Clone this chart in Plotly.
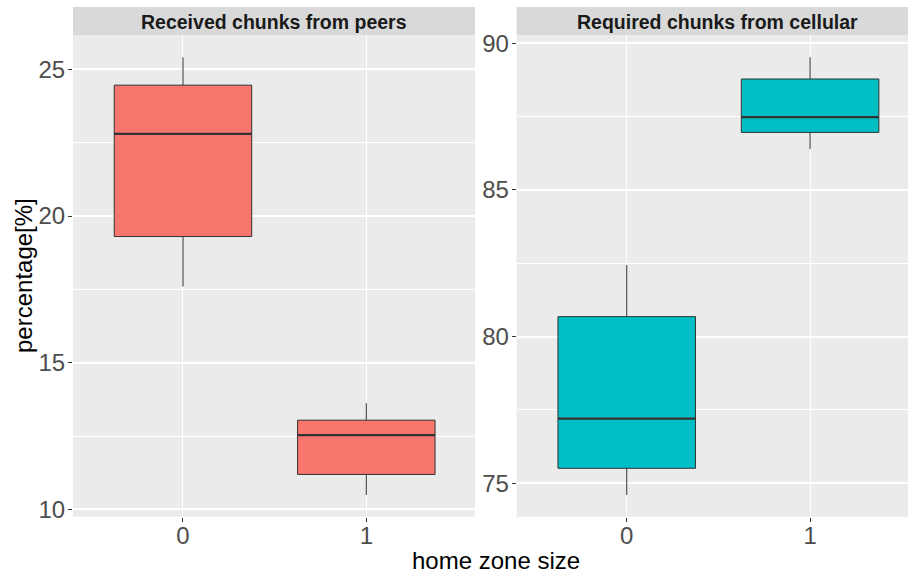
import plotly.graph_objects as go

# ---- data ----
categories = [0, 1]
panel_titles = ["Received chunks from peers", "Required chunks from cellular"]

peers_lower = [17.60, 10.49]
peers_q1 = [19.30, 11.19]
peers_median = [22.80, 12.53]
peers_q3 = [24.46, 13.04]
peers_upper = [25.41, 13.62]

cell_lower = [74.60, 86.39]
cell_q1 = [75.51, 86.96]
cell_median = [77.20, 87.48]
cell_q3 = [80.68, 88.78]
cell_upper = [82.44, 89.52]

peers_ticks = [10, 15, 20, 25]
cell_ticks = [75, 80, 85, 90]
x_tick_labels = ["0", "1"]

# ---- style ----
W, H = 908, 574
FONT = "Liberation Sans, Arial, sans-serif"
BOX_W = 0.75
COL_PEERS = "#F8766D"
COL_CELL = "#00BFC4"
LINE = "#333333"

def px_x(p):
    return p / W

def px_y(p):
    return 1 - p / H

fig = go.Figure()

def add_panel(xa, ya, lower, q1, med, q3, upper, color):
    fig.add_trace(go.Box(
        x=categories, q1=q1, median=med, q3=q3,
        lowerfence=lower, upperfence=upper,
        fillcolor=color, line=dict(color=LINE, width=1),
        width=BOX_W, whiskerwidth=0, boxpoints=False,
        xaxis=xa, yaxis=ya, showlegend=False, hoverinfo="skip",
    ))
    mx, my = [], []
    for c, m in zip(categories, med):
        mx += [c - BOX_W / 2, c + BOX_W / 2, None]
        my += [m, m, None]
    fig.add_trace(go.Scatter(
        x=mx, y=my, mode="lines", line=dict(color=LINE, width=2.2),
        xaxis=xa, yaxis=ya, showlegend=False, hoverinfo="skip",
    ))

add_panel("x", "y", peers_lower, peers_q1, peers_median, peers_q3, peers_upper, COL_PEERS)
add_panel("x2", "y2", cell_lower, cell_q1, cell_median, cell_q3, cell_upper, COL_CELL)

top, bottom = 35, 516.7
left_dom = [px_x(73), px_x(475)]
right_dom = [px_x(516.7), 1.0]
ydom = [px_y(bottom), px_y(top)]

xcommon = dict(
    tickmode="array", tickvals=categories, ticktext=x_tick_labels,
    showgrid=True, gridcolor="white", gridwidth=1.1,
    zeroline=False, showline=False,
    ticks="outside", ticklen=4, tickwidth=1, tickcolor=LINE,
    tickfont=dict(family=FONT, size=24, color="#4D4D4D"),
    ticklabelstandoff=-7,
    fixedrange=True,
)
ycommon = dict(
    tickmode="array",
    showgrid=True, gridcolor="white", gridwidth=1.5,
    minor=dict(dtick=2.5, tick0=0, showgrid=True, gridcolor="white", gridwidth=0.8),
    zeroline=False, showline=False,
    ticks="outside", ticklen=4, tickwidth=1, tickcolor=LINE,
    tickfont=dict(family=FONT, size=24, color="#4D4D4D"),
    ticklabelstandoff=-2,
    fixedrange=True,
)

fig.update_layout(
    width=W, height=H,
    margin=dict(l=0, r=0, t=0, b=0, autoexpand=False),
    paper_bgcolor="white",
    plot_bgcolor="#EBEBEB",
    font=dict(family=FONT),
    xaxis=dict(domain=left_dom, range=[-0.6, 1.593], anchor="y", **xcommon),
    yaxis=dict(domain=ydom, range=[9.75, 26.17], anchor="x",
               tickvals=peers_ticks, **ycommon),
    xaxis2=dict(domain=right_dom, range=[-0.6, 1.534], anchor="y2", **xcommon),
    yaxis2=dict(domain=ydom, range=[73.86, 90.28], anchor="x2",
                tickvals=cell_ticks, **ycommon),
)

# strips
for dom, title in zip([left_dom, right_dom], panel_titles):
    fig.add_shape(type="rect", xref="paper", yref="paper",
                  x0=dom[0], x1=dom[1], y0=px_y(top), y1=px_y(7),
                  fillcolor="#D9D9D9", line=dict(width=0), layer="below")
    fig.add_annotation(xref="paper", yref="paper",
                       x=(dom[0] + dom[1]) / 2 if dom[1] < 1 else (dom[0] + px_x(918.7)) / 2,
                       y=px_y(22), text="<b>" + title + "</b>", showarrow=False,
                       xanchor="center", yanchor="middle",
                       font=dict(family=FONT, size=19.5, color="#1A1A1A"))

# axis titles
fig.add_annotation(xref="paper", yref="paper", x=px_x(495.8), y=px_y(560),
                   text="home zone size", showarrow=False,
                   xanchor="center", yanchor="middle",
                   font=dict(family=FONT, size=24, color="black"))
fig.add_annotation(xref="paper", yref="paper", x=px_x(23), y=px_y(276),
                   text="percentage[%]", showarrow=False, textangle=-90,
                   xanchor="center", yanchor="middle",
                   font=dict(family=FONT, size=24, color="black"))

fig.write_html(
    "out.html",
    config={"displayModeBar": False},
    post_script="document.body.style.margin='0';document.body.style.overflow='hidden';",
)
